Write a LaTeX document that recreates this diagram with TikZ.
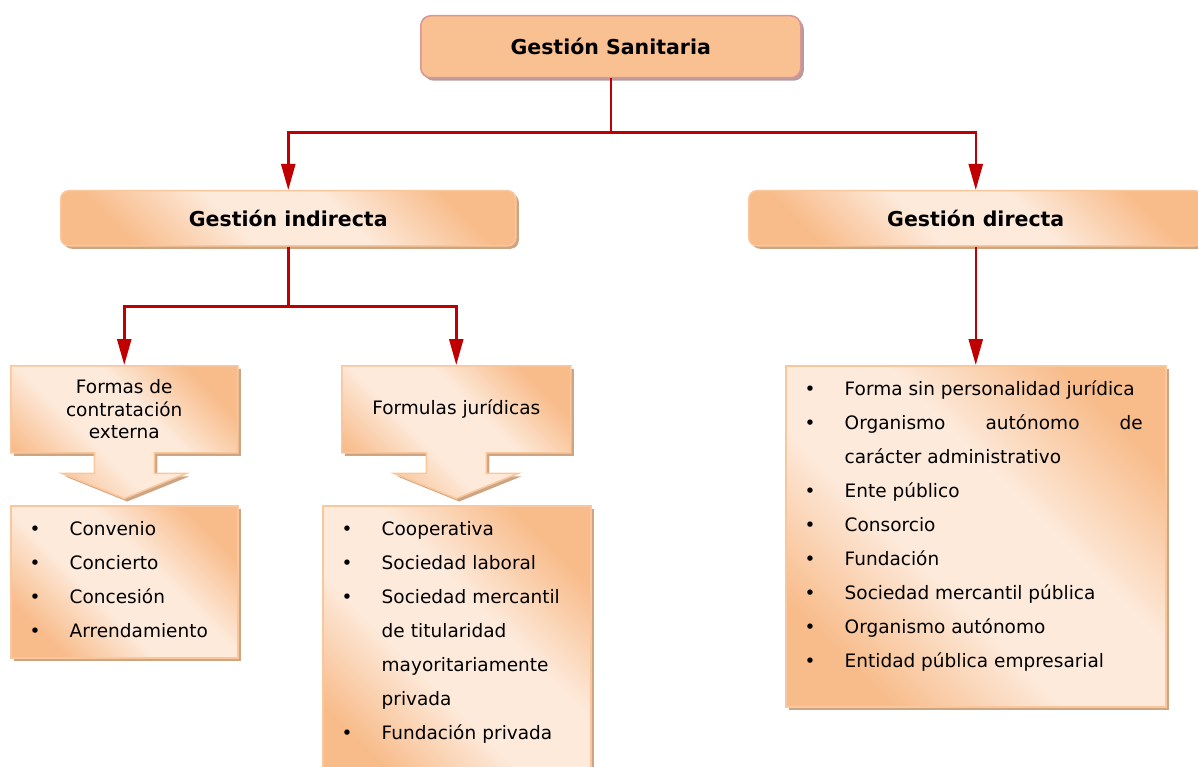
\documentclass[tikz,border=0pt]{standalone}
\usepackage{fontspec}
\setmainfont{DejaVu Sans}
\usepackage{enumitem}
\definecolor{gestionred}{RGB}{192,0,0}
\definecolor{gestionorange}{RGB}{248,188,139}
\definecolor{gestionlight}{RGB}{253,234,219}
\definecolor{gestionborder}{RGB}{250,198,156}
\definecolor{gestionshadow}{RGB}{205,165,130}
\definecolor{gestionpink}{RGB}{217,150,148}
\definecolor{gestiontop}{RGB}{249,192,145}
\definecolor{gestiontopshadow}{RGB}{185,155,158}
\usetikzlibrary{shapes.arrows,shadows,arrows.meta,calc,positioning}
\pgfdeclarehorizontalshading{peachfade}{100bp}{color(0bp)=(gestionorange); color(25bp)=(gestionorange); color(42bp)=(gestionlight); color(58bp)=(gestionlight); color(75bp)=(gestionorange); color(100bp)=(gestionorange)}
\hyphenpenalty=10000
\exhyphenpenalty=10000
\tolerance=10000
\setlist[itemize]{label=\textbullet, leftmargin=40pt, labelindent=0pt, labelwidth=15pt, labelsep=25pt, align=left, itemsep=0pt, parsep=0pt, topsep=0pt, partopsep=0pt}

\begin{document}
\begin{tikzpicture}[x=1pt, y=-1pt, every node/.style={font=\fontsize{18.5}{34}\selectfont},
    conn/.style={gestionred, line width=2.5pt, -{Triangle[width=14pt,length=26pt]}},
    peach/.style={draw=gestionborder, line width=1.5pt, shading=peachfade, shading angle=45,
        drop shadow={shadow xshift=3pt, shadow yshift=-3pt, fill=gestionshadow, opacity=1}},
    headbox/.style={peach, rounded corners=8pt, anchor=north west, inner sep=0pt, font=\fontsize{20.5}{24}\selectfont\bfseries},
    formbox/.style={peach, shape=arrow box, anchor=north west, inner sep=0pt, align=center, font=\fontsize{18.5}{22.5}\selectfont,
        arrow box arrows={south:45pt}, arrow box shaft width=60pt, arrow box head extend=32pt, arrow box head indent=0pt, arrow box tip angle=136},
    listbox/.style={peach, anchor=north west, inner sep=0pt},
    listtext/.style={anchor=base west, inner sep=0pt}]
    \useasboundingbox (0,0) rectangle (1198,767);

    \node[rounded corners=10pt, draw=gestionpink, line width=1.5pt, fill=gestiontop, anchor=north west, inner sep=0pt,
        minimum width=380pt, minimum height=62pt, font=\fontsize{20.5}{24}\selectfont\bfseries,
        drop shadow={shadow xshift=3pt, shadow yshift=-3pt, fill=gestiontopshadow, opacity=1}] (sanitaria) at (420,15) {Gestión Sanitaria};

    \node[headbox, minimum width=455pt, minimum height=55pt] (indirecta) at (60,190) {Gestión indirecta};
    \node[headbox, minimum width=454pt, minimum height=55pt] (directa) at (748,190) {Gestión directa};

    \draw[conn] (sanitaria.south) -- ++(0,54) -| (indirecta.north);
    \draw[conn] (sanitaria.south) -- ++(0,54) -| (directa.north);

    % gestion indirecta
    \node[formbox, minimum width=227pt, minimum height=87pt] (formas) at (10,365) {Formas de\\contratación\\externa};
    \node[formbox, minimum width=229pt, minimum height=87pt] (formulas) at (341,365) {Formulas jurídicas};

    \draw[conn] (indirecta.south) -- ++(0,60) -| (formas.north);
    \draw[conn] (indirecta.south) -- ++(0,60) -| (formulas.north);

    \node[listbox, minimum width=227pt, minimum height=152pt] (contratos) at (10,505) {};
    \node[listtext, text width=200pt] at (29.5,501) {\begin{itemize}\raggedright
        \item Convenio
        \item Concierto
        \item Concesión
        \item Arrendamiento
    \end{itemize}};

    \node[listbox, minimum width=268pt, minimum height=280pt] (juridicas) at (322,505) {};
    \node[listtext, text width=235pt] at (341.5,501) {\begin{itemize}\raggedright
        \item Cooperativa
        \item Sociedad laboral
        \item Sociedad mercantil de titularidad mayoritariamente privada
        \item Fundación privada
    \end{itemize}};

    % gestion directa
    \node[listbox, minimum width=380pt, minimum height=341pt] (publicas) at (785,365) {};
    \node[listtext, text width=338pt, align=justify] at (804.5,361) {\begin{itemize}
        \item Forma sin personalidad jurídica
        \item Organismo autónomo de carácter administrativo
        \item Ente público
        \item Consorcio
        \item Fundación
        \item Sociedad mercantil pública
        \item Organismo autónomo
        \item Entidad pública empresarial
    \end{itemize}};

    \draw[conn] (directa.south) -- (publicas.north);
\end{tikzpicture}
\end{document}
